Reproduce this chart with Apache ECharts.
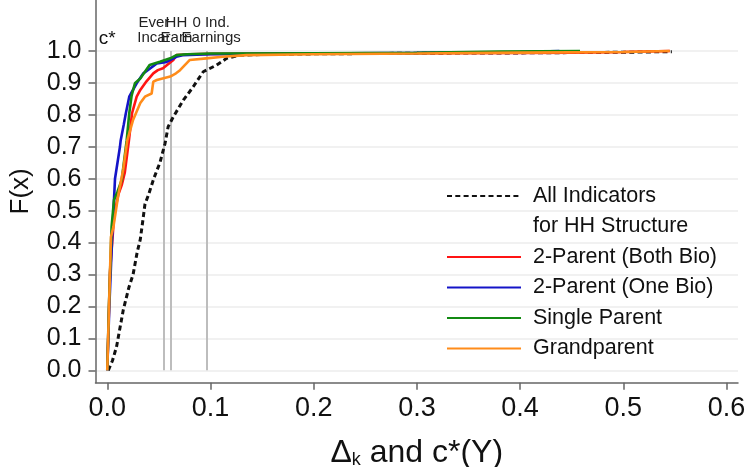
<!DOCTYPE html>
<html><head><meta charset="utf-8">
<script src="https://cdn.jsdelivr.net/npm/echarts@6/dist/echarts.min.js"></script>
<style>html,body{margin:0;padding:0;background:#fff}#c{width:747px;height:467px}</style>
</head><body><div id="c"></div>
<script>
// ---- data ----
const xTicks = [0, 0.1, 0.2, 0.3, 0.4, 0.5, 0.6];
const yTicks = [0, 0.1, 0.2, 0.3, 0.4, 0.5, 0.6, 0.7, 0.8, 0.9, 1.0];

const allX = [0.001, 0.005, 0.009, 0.0155, 0.021, 0.025, 0.029, 0.032, 0.0345, 0.0365, 0.040, 0.045, 0.051, 0.056, 0.059, 0.064, 0.0737, 0.0833, 0.093, 0.106, 0.1157, 0.1286, 0.151, 0.20, 0.30, 0.40, 0.50, 0.547];
const allY = [0.0, 0.03, 0.074, 0.189, 0.26, 0.30, 0.37, 0.41, 0.47, 0.52, 0.55, 0.60, 0.65, 0.711, 0.763, 0.794, 0.846, 0.888, 0.935, 0.956, 0.977, 0.987, 0.989, 0.991, 0.993, 0.994, 0.996, 0.998];

const bothBioX = [0, 0.0026, 0.0068, 0.0107, 0.014, 0.017, 0.021, 0.024, 0.0285, 0.032, 0.038, 0.0446, 0.049, 0.054, 0.064, 0.067, 0.08, 0.10, 0.2, 0.3, 0.4, 0.45, 0.5, 0.545];
const bothBioY = [0, 0.305, 0.49, 0.55, 0.58, 0.62, 0.72, 0.805, 0.857, 0.878, 0.905, 0.93, 0.94, 0.946, 0.972, 0.987, 0.99, 0.991, 0.992, 0.993, 0.994, 0.995, 0.997, 1.0];

const oneBioX = [0, 0.002, 0.0045, 0.0075, 0.0123, 0.013, 0.016, 0.018, 0.0213, 0.0285, 0.035, 0.048, 0.0575, 0.067, 0.073, 0.1, 0.2, 0.3, 0.4, 0.438];
const oneBioY = [0, 0.2, 0.4, 0.6, 0.7, 0.72, 0.77, 0.805, 0.857, 0.899, 0.93, 0.961, 0.966, 0.982, 0.987, 0.99, 0.992, 0.994, 0.997, 1.0];

const singleX = [0, 0.0016, 0.0042, 0.0065, 0.01, 0.014, 0.0188, 0.0213, 0.0236, 0.0268, 0.032, 0.041, 0.051, 0.061, 0.067, 0.077, 0.1, 0.2, 0.3, 0.38, 0.458];
const singleY = [0, 0.2, 0.45, 0.533, 0.56, 0.596, 0.72, 0.805, 0.86, 0.899, 0.914, 0.956, 0.966, 0.977, 0.987, 0.99, 0.992, 0.993, 0.994, 0.998, 1.0];

const grandX = [0, 0.0036, 0.006, 0.0107, 0.0155, 0.0194, 0.025, 0.032, 0.0365, 0.043, 0.0446, 0.048, 0.061, 0.0666, 0.0705, 0.080, 0.096, 0.112, 0.135, 0.2, 0.3, 0.4, 0.5, 0.545];
const grandY = [0, 0.418, 0.45, 0.55, 0.63, 0.72, 0.784, 0.837, 0.857, 0.867, 0.904, 0.909, 0.92, 0.93, 0.94, 0.972, 0.977, 0.982, 0.987, 0.99, 0.992, 0.995, 0.997, 1.0];

const refLineX = [0.0549, 0.0617, 0.0963];
const refLineLabels = ['Ever\nIncar', 'HH\nEarn', '0 Ind.\nEarnings'];
const refLinePad = [[0, 20, 0, 0], [0, 0, 0, 11], [0, 0, 0, 9]];

const names = ['All Indicators', 'for HH Structure', '2-Parent (Both Bio)', '2-Parent (One Bio)', 'Single Parent', 'Grandparent'];
const colors = ['#111111', '#ffffff', '#ff1414', '#1414c8', '#138a13', '#ff8c1a'];

// ---- build ----
const zip = (xs, ys) => xs.map((x, i) => [x, ys[i]]);
const FONT = 'Liberation Sans, Arial, sans-serif';

const refMarks = refLineX.map((x, i) => [
  { coord: [x, 0], label: { formatter: refLineLabels[i], padding: refLinePad[i] } },
  { coord: [x, 1] }
]);
refMarks.push([
  { coord: [0, 0], lineStyle: { color: 'rgba(255,255,255,0)', width: 1 },
    label: { formatter: '{c|c*}', distance: 3, rich: { c: { fontSize: 19, lineHeight: 19, color: '#111', fontFamily: FONT } } } },
  { coord: [0, 1] }
]);

const lineSeries = (name, data, color, extra) => Object.assign({
  name, type: 'line', data, symbol: 'none', showSymbol: false, smooth: false, animation: false,
  lineStyle: { color, width: 2.6 }, itemStyle: { color }, z: 3
}, extra || {});

const series = [
  lineSeries(names[0], zip(allX, allY), colors[0], {
    lineStyle: { color: colors[0], width: 3, type: [5, 3.3] },
    markLine: {
      silent: true, z: 1, symbol: ['none', 'none'], animation: false,
      lineStyle: { color: '#bdbdbd', width: 2, type: 'solid' },
      label: { show: true, position: 'end', distance: 6, color: '#222', fontSize: 15, lineHeight: 15, fontFamily: FONT },
      emphasis: { disabled: true },
      data: refMarks
    }
  }),
  { name: names[1], type: 'line', data: [], symbol: 'none', lineStyle: { width: 0 } },
  lineSeries(names[2], zip(bothBioX, bothBioY), colors[2], {
    markLine: {
      silent: true, z: 0, symbol: ['none', 'none'], animation: false,
      lineStyle: { color: '#ececec', width: 1.5, type: 'solid' },
      label: { show: false }, emphasis: { disabled: true },
      data: yTicks.map(v => ({ yAxis: v }))
    }
  }),
  lineSeries(names[3], zip(oneBioX, oneBioY), colors[3]),
  lineSeries(names[4], zip(singleX, singleY), colors[4]),
  lineSeries(names[5], zip(grandX, grandY), colors[5])
];

const chart = echarts.init(document.getElementById('c'), null, { renderer: 'canvas' });
chart.setOption({
  animation: false,
  backgroundColor: '#ffffff',
  textStyle: { fontFamily: FONT },
  grid: { left: 95.5, right: 9, top: 0, bottom: 84.3, containLabel: false, outerBoundsMode: 'none' },
  legend: {
    orient: 'vertical', left: 446, top: 185, padding: 0,
    itemWidth: 74, itemHeight: 14, itemGap: 8.5, selectedMode: false,
    itemStyle: { opacity: 0, borderWidth: 0 },
    textStyle: { fontSize: 21.5, lineHeight: 21, color: '#111', fontFamily: FONT, padding: [0, 0, 0, 7] },
    data: [names[0], { name: names[1], icon: 'none' }, names[2], names[3], names[4], names[5]]
  },
  xAxis: {
    type: 'value', min: -0.0114, max: 0.6111,
    axisLine: { onZero: false, lineStyle: { color: '#666', width: 1.5 } },
    axisTick: { customValues: xTicks, length: 7, lineStyle: { color: '#666', width: 1.5 } },
    axisLabel: { customValues: xTicks, formatter: v => v.toFixed(1), fontSize: 27, color: '#111', margin: 12, fontFamily: FONT },
    splitLine: { show: false },
    name: '{a|Δ}{b|k}{a| and c*(Y)}', nameLocation: 'middle', nameGap: 52,
    nameTextStyle: { rich: {
      a: { fontSize: 32, color: '#111', fontFamily: FONT, verticalAlign: 'bottom', lineHeight: 34 },
      b: { fontSize: 18, color: '#111', fontFamily: FONT, verticalAlign: 'bottom', lineHeight: 30 }
    } }
  },
  yAxis: {
    type: 'value', min: -0.0388, max: 1.1597,
    axisLine: { onZero: false, lineStyle: { color: '#666', width: 1.5 } },
    axisTick: { customValues: yTicks, length: 7, lineStyle: { color: '#666', width: 1.5 } },
    axisLabel: { customValues: yTicks, formatter: v => v.toFixed(1), fontSize: 25, color: '#111', margin: 14, fontFamily: FONT },
    splitLine: { show: false },
    name: 'F(x)', nameLocation: 'middle', nameGap: 62,
    nameTextStyle: { fontSize: 26, color: '#111', fontFamily: FONT }
  },
  series
});
</script></body></html>
